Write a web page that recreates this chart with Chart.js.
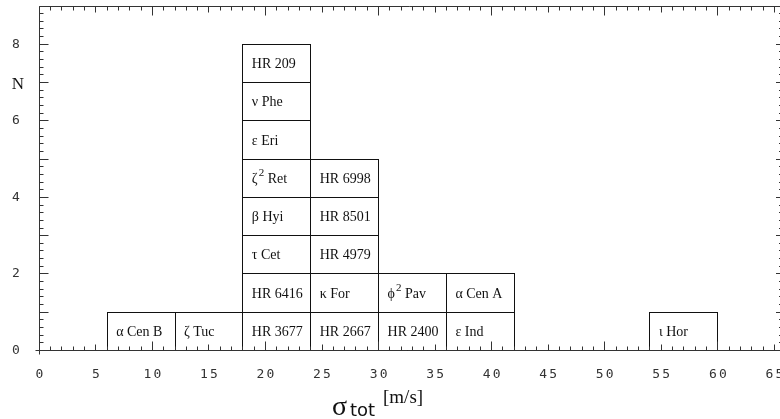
<!DOCTYPE html>
<html>
<head>
<meta charset="utf-8">
<script src="https://cdn.jsdelivr.net/npm/chart.js@4.4.1/dist/chart.umd.min.js"></script>
<style>
  html, body { margin: 0; padding: 0; background: #fff; }
  #wrap { width: 780px; height: 419px; }
</style>
</head>
<body>
<div id="wrap"><canvas id="sigmaChart"></canvas></div>
<script>
// histogram of sigma_tot, one box per star, bins 6 m/s wide
var binLeft = [6, 12, 18, 24, 30, 36, 54];
var binWidth = 6;
var binStars = [
  ['α Cen B'],
  ['ζ Tuc'],
  ['HR 3677', 'HR 6416', 'τ Cet', 'β Hyi', 'ζ^2 Ret', 'ε Eri', 'ν Phe', 'HR 209'],
  ['HR 2667', 'κ For', 'HR 4979', 'HR 8501', 'HR 6998'],
  ['HR 2400', 'ϕ^2 Pav'],
  ['ε Ind', 'α Cen A'],
  ['ι Hor']
];
var xTickLabels = [0, 5, 10, 15, 20, 25, 30, 35, 40, 45, 50, 55, 60, 65];
var yTickLabels = [0, 2, 4, 6, 8];
var xMin = 0, xMax = 65.5;
var yMin = 0, yMax = 9;

var boxes = [];
binLeft.forEach(function (left, b) {
  binStars[b].forEach(function (name, k) {
    boxes.push({ x: left + binWidth / 2, y: [k, k + 1], name: name });
  });
});

var lineColor = '#333';
var numFont = '13px "DejaVu Sans Mono"';

function crisp(v) { return Math.round(v - 0.5) + 0.5; }

function spacedText(ctx, s, cx, cy, gap) {
  var w = 0, i;
  for (i = 0; i < s.length; i++) w += ctx.measureText(s[i]).width + (i ? gap : 0);
  var x = cx - w / 2;
  for (i = 0; i < s.length; i++) {
    ctx.fillText(s[i], x, cy);
    x += ctx.measureText(s[i]).width + gap;
  }
}

// outlines (snapped to pixels) and star names on each bar
var boxLabels = {
  id: 'boxLabels',
  afterDatasetsDraw: function (chart) {
    var ctx = chart.ctx;
    var meta = chart.getDatasetMeta(0);
    ctx.save();
    ctx.strokeStyle = '#111';
    ctx.lineWidth = 1;
    meta.data.forEach(function (el) {
      var x0 = crisp(el.x - el.width / 2), x1 = crisp(el.x + el.width / 2);
      var y0 = crisp(el.y), y1 = crisp(el.base);
      ctx.strokeRect(x0, y0, x1 - x0, y1 - y0);
    });
    ctx.fillStyle = '#111';
    ctx.textBaseline = 'middle';
    ctx.textAlign = 'left';
    meta.data.forEach(function (el, i) {
      var name = boxes[i].name;
      var tx = el.x - el.width / 2 + 9;
      var ty = (el.y + el.base) / 2 + 1;
      var parts = name.split('^');
      ctx.font = '14px "Liberation Serif"';
      if (parts.length === 1) {
        ctx.fillText(name, tx, ty);
      } else {
        ctx.fillText(parts[0], tx, ty);
        tx += ctx.measureText(parts[0]).width + 1;
        var rest = parts[1].slice(1);
        ctx.font = '11px "Liberation Serif"';
        ctx.fillText(parts[1][0], tx, ty - 6);
        tx += ctx.measureText(parts[1][0]).width;
        ctx.font = '14px "Liberation Serif"';
        ctx.fillText(rest, tx, ty);
      }
    });
    ctx.restore();
  }
};

var frame = {
  id: 'frame',
  afterDraw: function (chart) {
    var ctx = chart.ctx, xs = chart.scales.x, ys = chart.scales.y, a = chart.chartArea;
    var L = crisp(xs.getPixelForValue(xMin)), B = crisp(ys.getPixelForValue(yMin));
    var T = crisp(ys.getPixelForValue(yMax)), R = a.right + 1;
    var i, px, len;
    ctx.save();
    ctx.strokeStyle = lineColor;
    ctx.lineWidth = 1;
    ctx.beginPath();
    ctx.moveTo(L - 4, B); ctx.lineTo(a.right, B);
    ctx.moveTo(L, B + 4); ctx.lineTo(L, T);
    ctx.moveTo(L, T); ctx.lineTo(a.right, T);
    // x ticks: every 1, longer at 5 and 10
    for (i = 0; i <= 65; i++) {
      px = crisp(xs.getPixelForValue(i));
      len = i % 10 === 0 ? 9 : (i % 5 === 0 ? 6 : 4);
      ctx.moveTo(px, B); ctx.lineTo(px, B - len);
      ctx.moveTo(px, T); ctx.lineTo(px, T + len);
    }
    // y ticks: every 0.2, longer at integers
    for (i = 0; i <= 45; i++) {
      px = crisp(ys.getPixelForValue(i / 5));
      ctx.moveTo(L, px); ctx.lineTo(L + (i % 5 === 0 ? 9 : 4), px);
      ctx.moveTo(R, px); ctx.lineTo(R - (i % 5 === 0 ? 5 : 2), px);
    }
    ctx.stroke();

    ctx.fillStyle = '#333';
    ctx.font = numFont;
    ctx.textBaseline = 'middle';
    ctx.textAlign = 'left';
    xTickLabels.forEach(function (v) {
      spacedText(ctx, String(v), xs.getPixelForValue(v), B + 24, 2.2);
    });
    yTickLabels.forEach(function (v) {
      spacedText(ctx, String(v), 16, ys.getPixelForValue(v), 2.2);
    });

    // axis titles
    ctx.fillStyle = '#111';
    ctx.textBaseline = 'alphabetic';
    ctx.font = '17px "Liberation Serif"';
    ctx.textAlign = 'center';
    ctx.fillText('N', 18, 89);
    ctx.textAlign = 'left';
    ctx.font = '28px "Liberation Serif"';
    ctx.fillText('σ', 332, 415);
    ctx.font = '18px "DejaVu Sans"';
    ctx.fillText('tot', 350, 416);
    ctx.font = '19px "Liberation Serif"';
    ctx.fillText('[m/s]', 383, 403);
    ctx.restore();
  }
};

var ctx = document.getElementById('sigmaChart').getContext('2d');
var sigmaChart = new Chart(ctx, {
  type: 'bar',
  data: {
    datasets: [{
      data: boxes,
      backgroundColor: '#fff',
      borderWidth: 0,
      categoryPercentage: 1,
      barPercentage: binWidth   // ruler is one x tick (1 m/s) wide
    }]
  },
  options: {
    responsive: true,
    maintainAspectRatio: false,
    animation: false,
    layout: { padding: { left: 39.3, right: 0, top: 6, bottom: 68.5 } },
    plugins: { legend: { display: false }, tooltip: { enabled: false } },
    scales: {
      x: {
        type: 'linear', min: xMin, max: xMax, offset: false,
        ticks: { display: false, stepSize: 1 },
        grid: { display: false, drawTicks: false, offset: false },
        border: { display: false }
      },
      y: {
        type: 'linear', min: yMin, max: yMax,
        display: false
      }
    }
  },
  plugins: [boxLabels, frame]
});
</script>
</body>
</html>
